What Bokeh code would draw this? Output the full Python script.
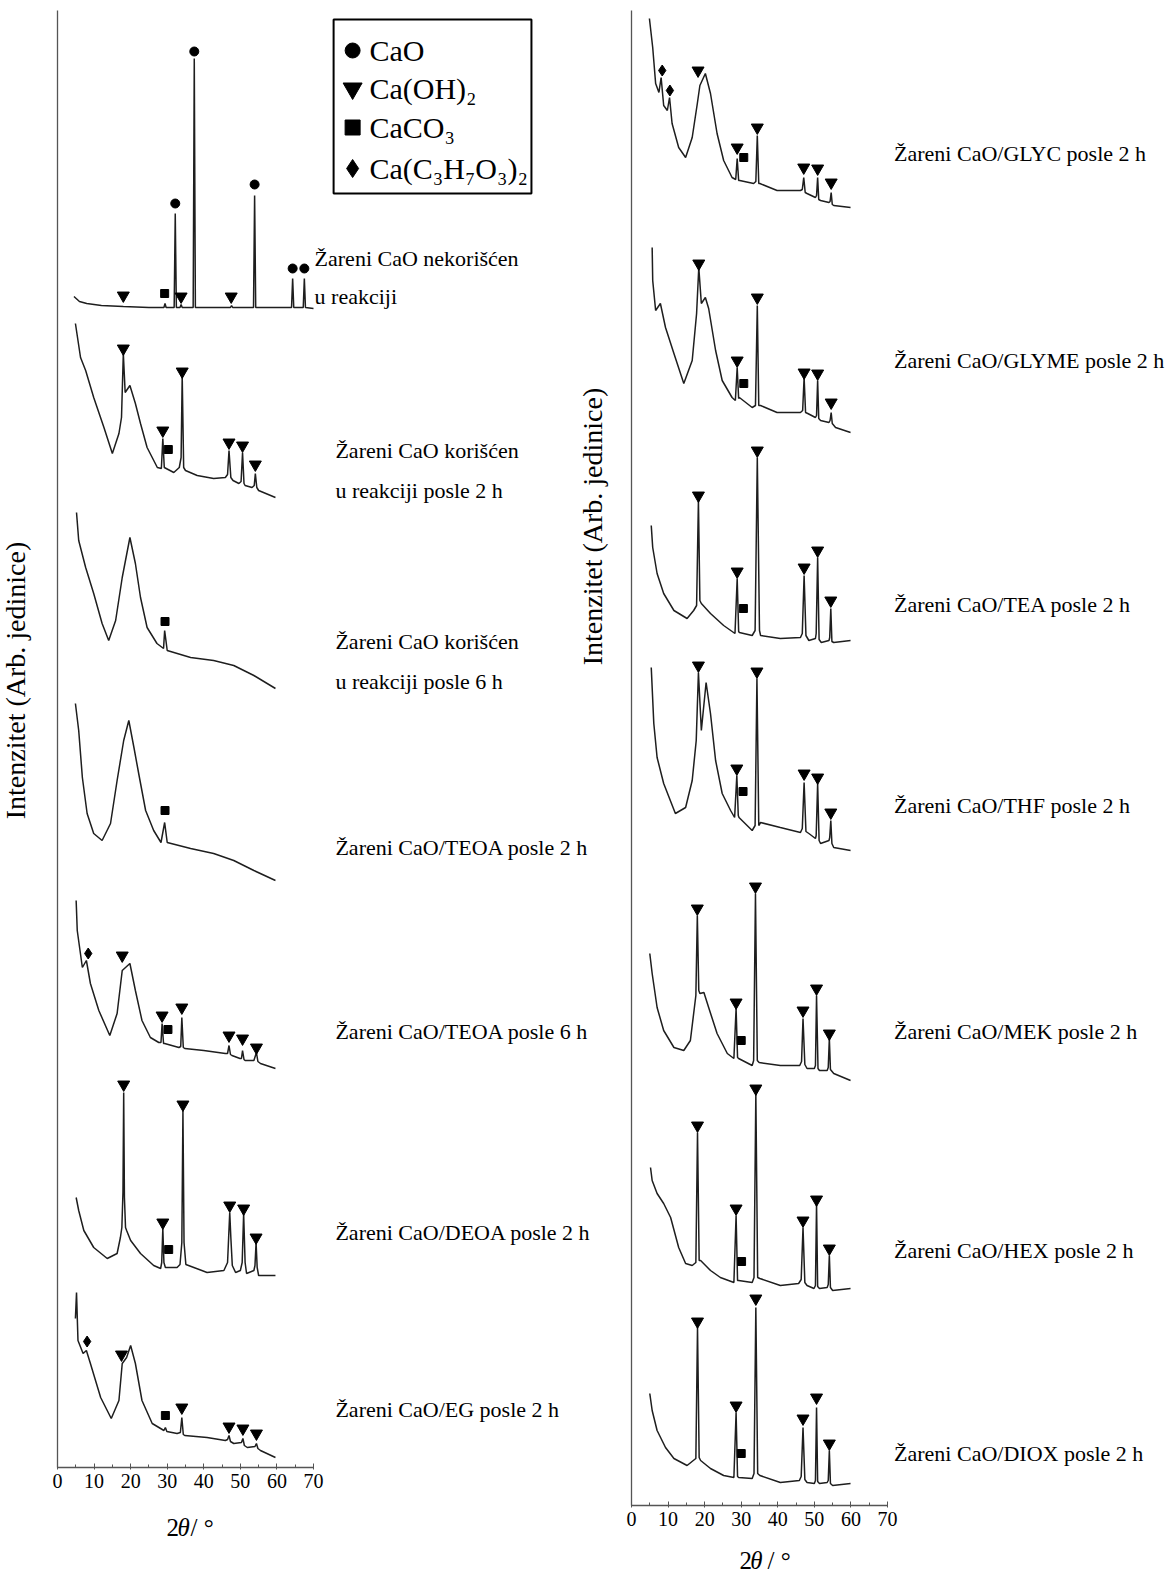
import math
from bokeh.plotting import figure
from bokeh.models import Range1d, LinearAxis, SingleIntervalTicker, FixedTicker
from bokeh.embed import file_html
from bokeh.resources import INLINE
from bokeh.core.properties import value

# ---------------- DATA (2theta in degrees, intensity in arbitrary units incl. stacking offset) -------------
# Left panel
cao_unused = [(4.5,1171),(6,1166),(8,1164),(12,1162),(18,1161),(25,1160),(29.1,1160),(29.4,1164),(29.7,1160),
              (31.9,1160),(32.2,1254),(32.5,1160),(33.5,1160),(33.8,1163),(34.1,1160),(37.1,1160),(37.4,1409),
              (37.7,1160),(47.3,1160),(47.6,1162),(47.9,1160),(53.6,1160),(53.9,1272),(54.2,1160),(64.0,1160),
              (64.3,1189),(64.6,1160),(67.2,1160),(67.5,1189),(67.8,1160),(70.0,1159)]
cao_2h = [(4.9,1144),(6.3,1110),(7.7,1097),(9.9,1070),(12.7,1040),(15.0,1014),(16.8,1034),(17.5,1050),(18.0,1114),
          (18.5,1075),(19.8,1082),(21.3,1064),(22.7,1044),(24.5,1020),(27.3,1000),(28.4,999),(28.8,1029),(29.2,1000),
          (31.8,995),(33.3,1000),(33.8,1010),(34.1,1092),(34.5,1000),(35.0,997),(38.2,992),(42.7,989),(45.9,990),
          (46.5,993),(46.9,1017),(47.4,990),(48.0,987),(49.6,984),(50.2,986),(50.6,1015),(51.0,984),(51.3,982),
          (53.2,980),(53.8,982),(54.1,994),(54.5,980),(55.0,977),(59.6,970)]
cao_6h = [(5.2,955),(5.8,927),(7.7,900),(9.9,874),(12.2,844),(14.0,827),(15.9,847),(17.7,890),(19.8,930),(21.3,904),
          (22.7,870),(24.5,840),(27.2,824),(29.0,819),(29.3,837),(30.0,817),(36.4,810),(42.7,807),(48.2,802),
          (53.7,792),(59.6,779)]
teoa_2h = [(4.9,764),(5.8,737),(6.8,690),(8.1,654),(9.9,634),(12.2,627),(14.5,644),(16.3,687),(18.1,727),(19.5,747),
           (20.9,720),(22.2,694),(24.1,657),(26.3,637),(28.3,625),(29.3,645),(30.0,625),(36.4,619),(42.7,614),
           (48.2,607),(53.7,597),(59.6,587)]
teoa_6h = [(5.1,567),(5.4,537),(6.8,500),(7.9,507),(9.0,484),(11.3,457),(14.3,432),(16.3,454),(17.7,497),(18.6,500),
           (19.8,504),(21.3,477),(23.1,447),(25.4,430),(27.7,425),(28.3,425),(28.6,444),(29.0,424),(29.3,424),
           (33.2,420),(33.7,421),(34.0,450),(34.4,420),(34.8,419),(40.0,417),(45.9,414),(46.5,414),(46.9,422),
           (47.3,413),(47.7,412),(49.9,409),(50.3,409),(50.6,417),(51.0,408),(51.3,407),(53.7,407),(54.4,415),
           (54.8,406),(55.5,404),(59.6,399)]
deoa_2h = [(5.1,270),(5.8,257),(7.2,237),(9.9,220),(13.6,209),(16.3,214),(17.2,230),(17.6,240),(17.9,275),(18.1,375),
           (18.3,270),(18.6,240),(18.9,237),(20.0,227),(22.7,214),(26.3,202),(28.2,199),(28.5,205),(28.8,239),
           (29.1,205),(29.5,200),(32.7,200),(33.5,203),(34.0,225),(34.3,357),(34.6,225),(35.1,203),(40.9,195),
           (45.5,197),(46.5,205),(46.8,230),(47.1,255),(47.4,230),(47.8,202),(48.7,195),(50.0,197),(50.5,205),
           (50.9,254),(51.3,205),(51.7,194),(53.7,197),(54.0,202),(54.3,225),(54.6,200),(55.0,192),(59.6,192)]
eg_2h = [(4.9,149),(5.2,175),(5.6,127),(7.0,114),(7.9,117),(9.0,104),(11.8,70),(14.7,49),(16.8,67),(17.7,104),
         (18.9,110),(20.0,122),(21.3,104),(23.1,67),(25.9,44),(29.1,37),(29.5,40),(29.9,36),(32.7,34),(33.6,35),
         (34.0,50),(34.4,33),(34.8,32),(40.9,30),(45.9,27),(46.5,28),(46.9,32),(47.3,26),(48.2,24),(50.3,25),
         (50.7,29),(51.1,22),(51.9,20),(54.0,21),(54.4,24),(54.8,19),(55.5,17),(59.6,10)]

# Right panel
glyc_2h = [(4.9,1487),(5.8,1458),(6.6,1422),(7.5,1413),(8.1,1428),(8.8,1400),(9.8,1395),(10.4,1408),(11.1,1382),
           (12.9,1358),(14.8,1348),(16.6,1368),(18.0,1402),(18.7,1420),(20.2,1432),(21.6,1412),(23.4,1372),
           (25.2,1345),(27.5,1328),(28.5,1326),(28.9,1347),(29.3,1325),(29.6,1325),(33.4,1322),(34.0,1324),
           (34.4,1370),(34.8,1322),(35.1,1322),(39.8,1315),(46.2,1315),(46.7,1316),(47.1,1328),(47.5,1313),
           (48.0,1312),(50.3,1308),(50.6,1310),(50.9,1328),(51.2,1306),(51.7,1305),(54.0,1303),(54.3,1304),
           (54.6,1313),(54.9,1301),(55.3,1300),(59.9,1298)]
glyme_2h = [(5.65,1258),(5.8,1225),(6.6,1195),(7.9,1202),(9.3,1178),(11.6,1152),(14.3,1122),(16.6,1145),(17.8,1192),
            (18.4,1238),(19.1,1202),(20.2,1208),(21.1,1197),(23.0,1155),(24.8,1125),(27.5,1108),(28.4,1105),
            (28.9,1138),(29.3,1107),(29.5,1108),(33.0,1098),(33.9,1100),(34.4,1200),(34.8,1100),(35.3,1100),
            (39.8,1093),(46.2,1093),(46.8,1095),(47.2,1128),(47.6,1093),(48.2,1092),(50.3,1088),(50.6,1090),
            (50.9,1125),(51.2,1087),(51.7,1085),(54.0,1083),(54.3,1085),(54.6,1093),(54.9,1082),(55.8,1078),
            (59.9,1073)]
tea_2h = [(5.4,980),(5.8,958),(7.0,932),(8.8,912),(11.6,895),(15.2,887),(17.0,895),(17.8,900),(18.3,1005),(18.7,905),
          (19.1,902),(21.6,892),(25.2,880),(28.3,872),(28.9,927),(29.3,874),(29.5,873),(33.0,870),(33.8,875),
          (34.4,1048),(35.0,875),(35.3,870),(40.7,867),(46.2,868),(46.7,872),(47.2,930),(47.7,870),(48.5,865),
          (50.3,867),(50.5,872),(50.9,948),(51.3,866),(51.9,863),(54.0,865),(54.2,868),(54.5,897),(54.8,864),
          (55.3,863),(59.9,865)]
thf_2h = [(5.4,838),(6.1,782),(7.0,748),(8.8,722),(12.0,692),(14.8,698),(16.6,725),(17.7,765),(18.3,833),(19.1,775),
          (20.4,823),(21.6,792),(23.0,745),(24.8,712),(27.1,695),(28.2,688),(28.8,730),(29.2,690),(29.4,688),
          (33.0,675),(33.8,680),(34.3,827),(34.8,680),(35.3,683),(40.7,678),(46.2,673),(46.7,677),(47.2,723),
          (47.7,674),(48.5,672),(50.3,667),(50.5,670),(50.9,722),(51.3,665),(51.7,662),(54.0,665),(54.2,668),
          (54.5,685),(54.8,662),(55.3,658),(59.9,655)]
mek_2h = [(5.0,552),(5.65,532),(7.0,498),(8.8,475),(11.6,458),(14.3,455),(16.1,465),(17.2,498),(17.6,510),(18.0,590),
          (18.4,515),(18.7,512),(19.8,513),(21.1,498),(23.4,472),(26.2,452),(28.0,447),(28.6,497),(29.0,448),
          (29.3,447),(33.0,440),(33.4,445),(33.9,612),(34.4,445),(34.9,443),(40.7,440),(46.0,440),(46.5,444),
          (46.9,487),(47.4,441),(48.0,437),(50.0,437),(50.3,440),(50.6,510),(51.0,437),(51.4,435),(53.5,435),
          (53.8,438),(54.1,467),(54.4,436),(55.3,432),(59.9,425)]
hex_2h = [(5.2,338),(5.65,325),(7.0,312),(8.8,302),(10.7,288),(12.9,258),(14.8,242),(16.6,240),(17.6,243),(18.05,373),
          (18.5,245),(18.9,245),(21.6,235),(24.3,228),(28.0,223),(28.6,290),(29.0,225),(29.3,225),(33.0,223),
          (33.5,228),(34.0,412),(34.5,228),(35.1,227),(40.7,220),(45.7,222),(46.4,226),(46.9,278),(47.4,223),
          (48.0,220),(49.9,217),(50.3,220),(50.6,302),(50.9,219),(51.4,217),(53.5,218),(53.8,221),(54.1,250),
          (54.4,218),(55.0,215),(59.9,217)]
diox_2h = [(5.0,112),(5.65,95),(7.0,75),(9.3,58),(11.6,47),(15.2,40),(16.9,45),(17.6,47),(18.05,178),(18.5,48),
           (18.9,45),(21.6,37),(25.2,30),(28.0,28),(28.6,93),(29.0,29),(29.3,28),(33.0,27),(33.5,32),(34.0,198),
           (34.5,32),(35.1,30),(40.7,23),(45.9,25),(46.4,29),(46.9,78),(47.4,26),(48.0,23),(50.0,22),(50.3,25),
           (50.6,98),(50.9,24),(51.4,22),(53.5,23),(53.8,25),(54.1,55),(54.4,22),(55.0,20),(59.9,22)]

# Phase markers (2theta, intensity)
left_cao_marks = [(32.2,1264),(37.4,1416),(53.9,1283),(64.3,1199),(67.5,1199)]
left_caoh2_marks = [(18.0,1172),(33.8,1171),(47.5,1171),
                    (18.0,1119),(28.8,1037),(34.1,1096),(46.9,1025),(50.6,1022),(54.1,1003),
                    (17.7,512),(28.6,452),(34.0,460),(46.9,432),(50.6,429),(54.4,420),
                    (18.1,383),(28.8,245),(34.3,363),(47.1,262),(50.9,259),(54.3,230),
                    (17.5,113),(34.0,60),(46.9,41),(50.7,39),(54.4,34)]
left_caco3_marks = [(29.3,1174),(30.3,1018),(29.4,846),(29.4,657),(30.2,438),(30.4,218),(29.5,52)]
left_glyceroxide_marks = [(8.4,514),(8.1,126)]
right_caoh2_marks = [(18.2,1435),(28.9,1358),(34.4,1378),(47.1,1338),(50.9,1337),(54.6,1323),
                     (18.4,1242),(28.9,1145),(34.4,1208),(47.2,1133),(50.9,1132),(54.6,1103),
                     (18.3,1010),(28.9,934),(34.4,1055),(47.2,938),(50.9,955),(54.5,905),
                     (18.3,840),(28.8,737),(34.3,834),(47.2,732),(50.9,728),(54.5,693),
                     (18.0,597),(28.6,503),(33.9,619),(46.9,495),(50.6,517),(54.1,472),
                     (18.05,380),(28.6,297),(34.0,417),(46.9,285),(50.6,306),(54.1,257),
                     (18.05,184),(28.6,100),(34.0,207),(46.9,87),(50.6,108),(54.1,62)]
right_caco3_marks = [(30.7,1348),(30.7,1122),(30.6,897),(30.5,714),(30.0,465),(30.1,244),(30.0,52)]
right_glyceroxide_marks = [(8.4,1435),(10.5,1415)]

# Sample labels (text line, anchor 2theta, anchor intensity)
left_labels = [("Žareni CaO nekorišćen", 70.3, 1209), ("u reakciji", 70.3, 1171),
               ("Žareni CaO korišćen", 76.0, 1017), ("u reakciji posle 2 h", 76.0, 977),
               ("Žareni CaO korišćen", 76.0, 826), ("u reakciji posle 6 h", 76.0, 786),
               ("Žareni CaO/TEOA posle 2 h", 76.0, 620),
               ("Žareni CaO/TEOA posle 6 h", 76.0, 436),
               ("Žareni CaO/DEOA posle 2 h", 76.0, 235),
               ("Žareni CaO/EG posle 2 h", 76.0, 58)]
right_labels = [("Žareni CaO/GLYC  posle 2 h", 71.8, 1352),
                ("Žareni CaO/GLYME posle 2 h", 71.8, 1145),
                ("Žareni CaO/TEA posle 2 h", 71.8, 901),
                ("Žareni CaO/THF posle 2 h", 71.8, 700),
                ("Žareni CaO/MEK posle 2 h", 71.8, 474),
                ("Žareni CaO/HEX posle 2 h", 71.8, 255),
                ("Žareni CaO/DIOX posle 2 h", 71.8, 52)]

legend_phases = ["CaO", "Ca(OH)₂", "CaCO₃", "Ca(C₃H₇O₃)₂"]
legend_markers = ["circle", "inverted_triangle", "square", "diamond"]

x_ticks_interval = 10
y_title = "Intenzitet (Arb. jedinice)"

# ---------------- STYLE / LAYOUT -------------
FONT = "Liberation Serif"
PX_PER_DEG = 3.657
W, H = 1167, 1577
LINE_COLOR = "#1e1e1e"
AXIS_COLOR = "#555555"
# pixel position of each panel's origin (2theta = 0, intensity = 0)
L_X0, L_Y0 = 57, 1467
R_X0, R_Y0 = 631, 1505


def xs(pairs):
    return [a for a, b in pairs]


def ys(pairs):
    return [b for a, b in pairs]


p = figure(width=W, height=H,
           x_range=Range1d(-L_X0 / PX_PER_DEG, (W - L_X0) / PX_PER_DEG),
           y_range=Range1d(-(H - L_Y0), L_Y0),
           x_axis_type=None, y_axis_type=None, output_backend="svg", toolbar_location=None,
           title=None, min_border=0, min_border_left=0, min_border_right=0, min_border_top=0,
           min_border_bottom=0)
p.extra_x_ranges = {"right": Range1d(-R_X0 / PX_PER_DEG, (W - R_X0) / PX_PER_DEG)}
p.extra_y_ranges = {"right": Range1d(-(H - R_Y0), R_Y0)}
p.outline_line_color = None
p.background_fill_color = "white"
p.border_fill_color = "white"


def rkw(rn):
    return {} if rn is None else dict(x_range_name=rn, y_range_name=rn)


def add_axes(rn, y_top):
    xa = LinearAxis(ticker=SingleIntervalTicker(interval=x_ticks_interval, num_minor_ticks=2),
                    bounds=(0, 70), fixed_location=0, **rkw(rn))
    xa.axis_line_color = AXIS_COLOR
    xa.axis_line_width = 1.3
    xa.major_tick_line_color = AXIS_COLOR
    xa.minor_tick_line_color = AXIS_COLOR
    xa.major_tick_in = 4
    xa.major_tick_out = 2
    xa.minor_tick_in = 3
    xa.minor_tick_out = 0
    xa.major_label_text_font = FONT
    xa.major_label_text_font_size = "20px"
    xa.major_label_text_color = "black"
    xa.major_label_standoff = 4
    p.add_layout(xa, "below")
    ya = LinearAxis(ticker=FixedTicker(ticks=[]), bounds=(0, y_top), fixed_location=0, **rkw(rn))
    ya.axis_line_color = AXIS_COLOR
    ya.axis_line_width = 1.3
    ya.major_tick_line_color = None
    ya.minor_tick_line_color = None
    ya.major_label_text_font_size = "0px"
    p.add_layout(ya, "left")


def add_marks(pairs, marker, size, rn=None):
    p.scatter(xs(pairs), ys(pairs), marker=marker, size=size, fill_color="black", line_color="black", **rkw(rn))


def add_labels(labels, rn=None):
    p.text([t[1] for t in labels], [t[2] for t in labels], text=[t[0] for t in labels],
           text_font=value(FONT), text_font_size="22px", text_color="black",
           text_baseline="middle", text_align="left", **rkw(rn))


def add_axis_titles(x2, xth, xsl, yt, yl_x, yl_y, rn=None):
    common = dict(text_font=value(FONT), text_font_size="25px", text_color="black",
                  text_baseline="middle", text_align="left", **rkw(rn))
    p.text([x2], [yt], text=["2"], **common)
    p.text([xth], [yt], text=["θ"], text_font_style="italic", **common)
    p.text([xsl], [yt], text=["/ °"], **common)
    p.text([yl_x], [yl_y], text=[y_title], angle=math.pi / 2, text_font=value(FONT), text_font_size="28px",
           text_color="black", text_baseline="middle", text_align="center", **rkw(rn))


# ---------------- LEFT PANEL -------------
add_axes(None, 1457)
for pat in [cao_unused, cao_2h, cao_6h, teoa_2h, teoa_6h, deoa_2h, eg_2h]:
    p.line(xs(pat), ys(pat), line_color=LINE_COLOR, line_width=1.5)
add_marks(left_cao_marks, "circle", 9)
add_marks(left_caoh2_marks, "inverted_triangle", 12)
add_marks(left_caco3_marks, "square", 8)
add_marks(left_glyceroxide_marks, "diamond", 11)
add_labels(left_labels)
add_axis_titles(29.8, 32.8, 36.4, -60, -11.5, 787)

# legend box
p.quad(left=[75.5], right=[129.6], bottom=[1274], top=[1448], fill_color=None,
       line_color="black", line_width=2)
leg_y = [1417, 1379, 1340, 1299]
leg_sizes = [15, 19, 15, 18]
for mk, yy, sz in zip(legend_markers, leg_y, leg_sizes):
    p.scatter([80.7], [yy], marker=mk, size=sz, fill_color="black", line_color="black")
p.text([85.3] * 4, leg_y, text=legend_phases, text_font=value(FONT), text_font_size="30px",
       text_color="black", text_baseline="middle", text_align="left")

# ---------------- RIGHT PANEL -------------
add_axes("right", 1495)
for pat in [glyc_2h, glyme_2h, tea_2h, thf_2h, mek_2h, hex_2h, diox_2h]:
    p.line(xs(pat), ys(pat), line_color=LINE_COLOR, line_width=1.5, x_range_name="right", y_range_name="right")
add_marks(right_caoh2_marks, "inverted_triangle", 12, "right")
add_marks(right_caco3_marks, "square", 8, "right")
add_marks(right_glyceroxide_marks, "diamond", 11, "right")
add_labels(right_labels, "right")
add_axis_titles(29.5, 32.5, 37.2, -55, -10.7, 979, "right")

open("out.html", "w").write(file_html(p, INLINE))
